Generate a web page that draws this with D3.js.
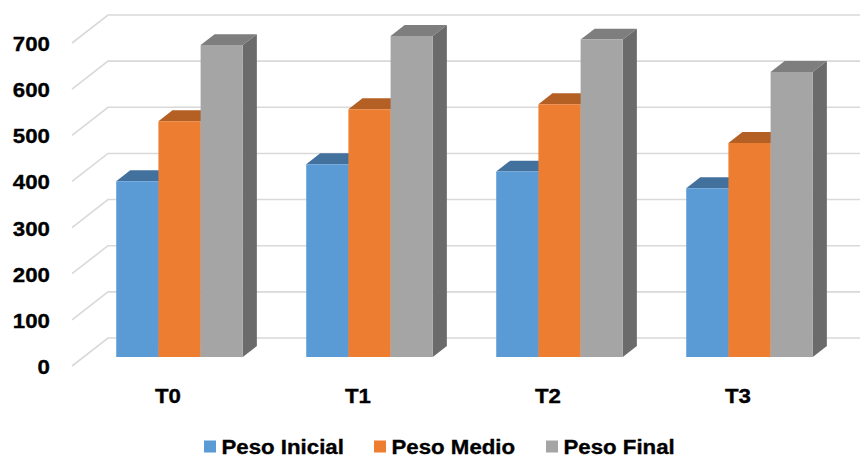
<!DOCTYPE html>
<html>
<head>
<meta charset="utf-8">
<script src="https://cdn.jsdelivr.net/npm/d3@7/dist/d3.min.js"></script>
<style>
  html, body { margin: 0; padding: 0; background: #fff; }
  svg { display: block; font-family: "Liberation Sans", Arial, sans-serif; font-weight: bold; }
  .lbl { fill: #000; stroke: #000; stroke-width: 0.35px; }
</style>
</head>
<body>
<svg id="chart" width="860" height="459"></svg>
<script>
// Chart data
const categories = ["T0", "T1", "T2", "T3"];
const seriesNames = ["Peso Inicial", "Peso Medio", "Peso Final"];
const pesoInicial = [381, 418, 402, 366];
const pesoMedio = [511, 537, 548, 464];
const pesoFinal = [676, 696, 688, 618];
const yTicks = [0, 100, 200, 300, 400, 500, 600, 700];

const seriesValues = [pesoInicial, pesoMedio, pesoFinal];

// Face colours per series: front, top, side
const palette = [
  { front: "#5B9BD5", top: "#43719E", side: "#3F6C96" },
  { front: "#ED7D31", top: "#B45F24", side: "#A95820" },
  { front: "#A5A5A5", top: "#7E7E7E", side: "#6B6B6B" }
];

const svg = d3.select("#chart");
const W = 860;
const textStretch = 1.06;
const fontSize = 21;

// Oblique projection: depth fraction f shifts a point right and up
const depthX = 36, depthY = -28;
const barFront = 0.32, barBack = 0.71;

const x0 = d3.scaleBand().domain(categories).range([73, 833])
  .paddingInner(0.3337).paddingOuter(0.3337 / 2).align(0.5);
const x1 = d3.scaleBand().domain(seriesNames).range([0, x0.bandwidth()]).padding(0);
const y = d3.scaleLinear().domain([0, 700]).range([366, 43]);

const proj = (x, v, f) => [x + depthX * f, y(v) + depthY * f];

// Gridlines: floor diagonal then back wall
const grid = svg.append("g");
yTicks.forEach(t => {
  const a = proj(x0.range()[0] - 1, t, 0);
  const b = proj(x0.range()[0] - 1, t, 1);
  grid.append("path")
    .attr("d", `M${a[0]},${a[1]}L${b[0]},${b[1]}L${W},${b[1]}`)
    .attr("fill", "none")
    .attr("stroke", "#D9D9D9")
    .attr("stroke-width", 1.6);
});

// Y axis labels
svg.append("g").selectAll("text").data(yTicks).join("text")
  .attr("class", "lbl")
  .attr("transform", d => `translate(50,${y(d) + 0.5}) scale(${textStretch},1)`)
  .attr("text-anchor", "end")
  .attr("dy", "0.36em")
  .attr("font-size", fontSize)
  .text(d => d);

// 3D bars, painted left to right so each box covers its neighbour's side
const bars = svg.append("g");
const poly = pts => "M" + pts.map(p => p.join(",")).join("L") + "Z";
categories.forEach((cat, ci) => {
  seriesNames.forEach((s, si) => {
    const v = seriesValues[si][ci];
    const xl = x0(cat) + x1(s);
    const xr = xl + x1.bandwidth();
    const c = palette[si];
    // top face
    bars.append("path")
      .attr("d", poly([proj(xl, v, barFront), proj(xl, v, barBack), proj(xr, v, barBack), proj(xr, v, barFront)]))
      .attr("fill", c.top);
    // right side face
    bars.append("path")
      .attr("d", poly([proj(xr, v, barFront), proj(xr, v, barBack), proj(xr, 0, barBack), proj(xr, 0, barFront)]))
      .attr("fill", c.side);
    // front face
    bars.append("path")
      .attr("d", poly([proj(xl, v, barFront), proj(xr, v, barFront), proj(xr, 0, barFront), proj(xl, 0, barFront)]))
      .attr("fill", c.front);
  });
});

// Category labels
svg.append("g").selectAll("text").data(categories).join("text")
  .attr("class", "lbl")
  .attr("transform", d => `translate(${x0(d) + x0.bandwidth() / 2},395) scale(${textStretch},1)`)
  .attr("text-anchor", "middle")
  .attr("dy", "0.36em")
  .attr("font-size", fontSize)
  .text(d => d);

// Legend
const legendX = [204, 374, 546];
const legend = svg.append("g");
seriesNames.forEach((s, i) => {
  legend.append("rect")
    .attr("x", legendX[i]).attr("y", 440.5)
    .attr("width", 12).attr("height", 12)
    .attr("fill", palette[i].front);
  legend.append("text")
    .attr("class", "lbl")
    .attr("transform", `translate(${legendX[i] + 17.5},446.5) scale(${textStretch},1)`)
    .attr("dy", "0.36em")
    .attr("font-size", fontSize)
    .text(s);
});
</script>
</body>
</html>
